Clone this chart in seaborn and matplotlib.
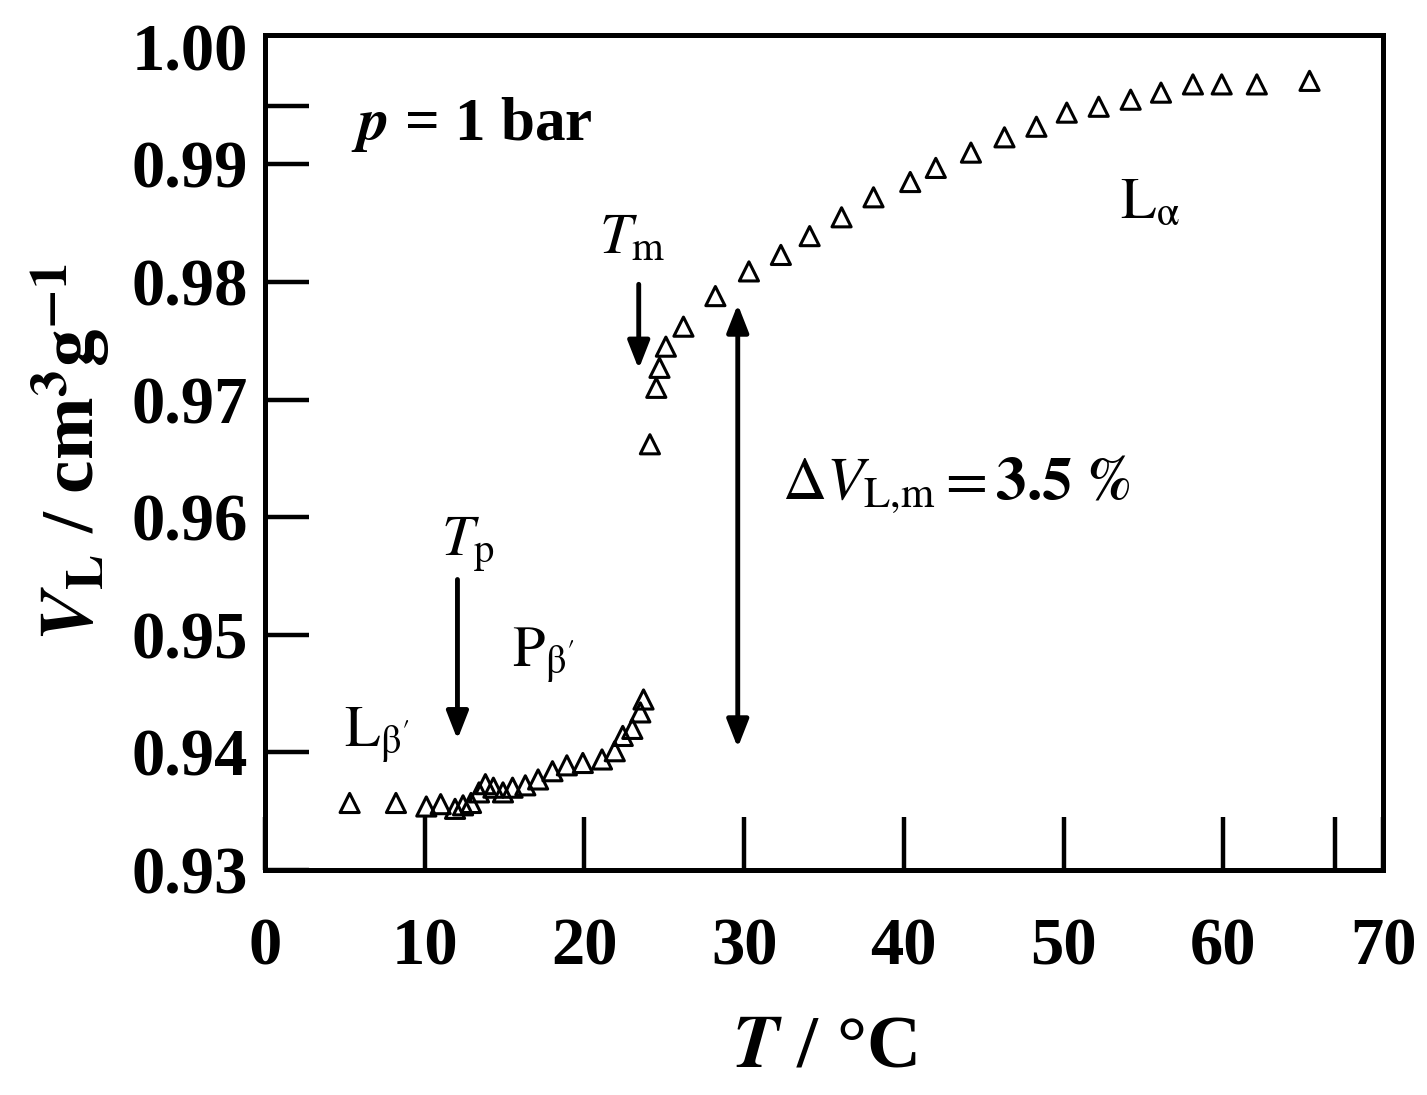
import matplotlib
matplotlib.use('Agg')
import matplotlib.pyplot as plt
import seaborn as sns
import pandas as pd

# data (T in degC, V_L in cm3/g)
temp_low = [5.3, 8.2, 10.1, 11.0, 11.9, 12.4, 12.9, 13.4, 13.8, 14.3, 14.9, 15.5,
            16.3, 17.1, 18.0, 18.9, 19.9, 21.1, 21.9, 22.4, 23.0, 23.5, 23.7]
vol_low = [0.9357, 0.9357, 0.9354, 0.9356, 0.9352, 0.9355, 0.9357, 0.9366, 0.9373,
           0.9370, 0.9366, 0.9370, 0.9372, 0.9377, 0.9384, 0.9389, 0.9391, 0.9394,
           0.9401, 0.9414, 0.9420, 0.9434, 0.9445]
temp_high = [24.1, 24.5, 24.7, 25.1, 26.2, 28.2, 30.3, 32.3, 34.1, 36.1, 38.1, 40.4,
             42.0, 44.2, 46.3, 48.3, 50.2, 52.2, 54.2, 56.1, 58.1, 59.9, 62.1, 65.4]
vol_high = [0.9662, 0.9710, 0.9727, 0.9745, 0.9762, 0.9788, 0.9809, 0.9823, 0.9839,
            0.9855, 0.9872, 0.9885, 0.9897, 0.9910, 0.9923, 0.9932, 0.9944, 0.9949,
            0.9955, 0.9961, 0.9968, 0.9968, 0.9968, 0.9971]

x_ticks = [0, 10, 20, 30, 40, 50, 60, 70]
y_ticks = [0.93, 0.94, 0.95, 0.96, 0.97, 0.98, 0.99]

df = pd.DataFrame({"T": temp_low + temp_high, "V": vol_low + vol_high})

sns.set_theme(style="ticks")
plt.rcParams['font.family'] = ['Liberation Serif', 'DejaVu Serif']
plt.rcParams['mathtext.fontset'] = 'stix'
plt.rcParams['text.color'] = 'black'
plt.rcParams['axes.labelcolor'] = 'black'
plt.rcParams['xtick.color'] = 'black'
plt.rcParams['ytick.color'] = 'black'

fig = plt.figure(figsize=(14.27, 10.95), dpi=100)
ax = fig.add_axes([265 / 1427, 1 - 870 / 1095, (1383 - 265) / 1427, (870 - 35) / 1095])

sns.scatterplot(data=df, x="T", y="V", marker="^", s=190, facecolors="none",
                edgecolor="black", linewidth=2.2, ax=ax, zorder=3)

ax.set_xlim(0, 70)
ax.set_ylim(0.93, 1.001)
ax.set_xticks(x_ticks)
ax.set_xticklabels([str(t) for t in x_ticks], fontsize=48, fontweight="bold")
# the extra mark at 0.995 carries no label; the 1.00 label has no visible mark
ax.set_yticks(y_ticks + [0.995])
ax.set_yticklabels([f"{t:.2f}" for t in y_ticks] + [""], fontsize=48, fontweight="bold")
ax.set_yticks([1.00], minor=True)
ax.set_yticklabels(["1.00"], minor=True, fontsize=48, fontweight="bold")
ax.set_xticks([67], minor=True)
ax.tick_params(axis="x", which="both", direction="in", length=38, width=3.2, pad=34)
ax.tick_params(axis="y", which="major", direction="in", length=32, width=3.2, pad=12)
ax.tick_params(axis="y", which="minor", direction="in", length=0, width=0, pad=12)
for sp in ax.spines.values():
    sp.set_linewidth(3.6)
    sp.set_color("black")

ax.set_xlabel(r"$\mathbfit{T}$ / °C", fontsize=54, fontweight="bold", labelpad=26)
ax.set_ylabel(r"$\mathbfit{V}_{\mathbf{L}}$ / cm$^{\mathbf{3}}$g$^{\mathbf{-1}}$",
              fontsize=54, fontweight="bold", labelpad=14)

# annotations
ax.text(5.4, 0.9934, r"$\mathbfit{p}$ = 1 bar", fontsize=44, fontweight="bold", va="center")
ax.text(23.0, 0.9836, r"$T_{\mathrm{m}}$", fontsize=42, ha="center", va="center")
ax.text(12.7, 0.9577, r"$T_{\mathrm{p}}$", fontsize=42, ha="center", va="center")
ax.text(17.4, 0.9483, r"$\mathrm{P}_{\mathrm{\beta}'}$", fontsize=42, ha="center", va="center")
ax.text(7.0, 0.9415, r"$\mathrm{L}_{\mathrm{\beta}'}$", fontsize=42, ha="center", va="center")
ax.text(55.4, 0.9866, r"$\mathrm{L}_{\mathrm{\alpha}}$", fontsize=42, ha="center", va="center")
ax.text(32.4, 0.9628, r"$\Delta V_{\mathrm{L{,}m}} = \mathbf{3.5\ \%}$", fontsize=44,
        ha="left", va="center")

arrow_kw = dict(arrowstyle="-|>,head_length=1.4,head_width=0.55", color="black",
                lw=3.5, shrinkA=0, shrinkB=0)
ax.annotate("", xy=(23.4, 0.9726), xytext=(23.4, 0.9798), arrowprops=arrow_kw)
ax.annotate("", xy=(12.05, 0.9411), xytext=(12.05, 0.9547), arrowprops=arrow_kw)
ax.annotate("", xy=(29.6, 0.9404), xytext=(29.6, 0.9781),
            arrowprops=dict(arrow_kw, arrowstyle="<|-|>,head_length=1.4,head_width=0.55"))

fig.savefig("out.png", dpi=100, facecolor="white")
